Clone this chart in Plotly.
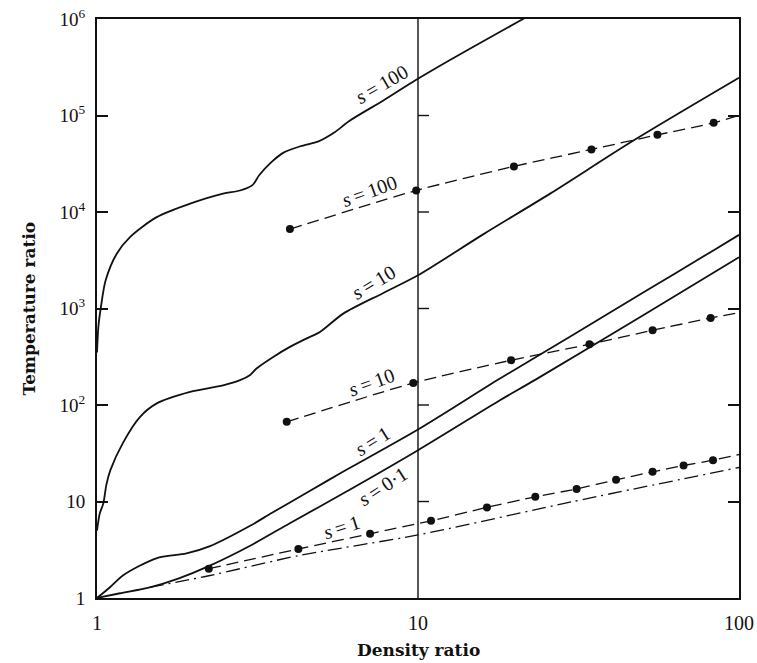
import math
import plotly.graph_objects as go

# ---------------- data ----------------
s100_solid_x = [1.0, 1.01, 1.027, 1.064, 1.152, 1.267, 1.535, 1.95, 2.47, 2.79, 3.05, 3.2, 3.5, 3.8, 4.3, 4.9, 5.5, 6.14, 7.8, 9.79, 12.5, 21.8]
s100_solid_y = [350, 650, 1000, 1960, 3700, 5500, 8850, 12200, 15500, 16700, 19000, 24000, 33000, 41000, 48000, 54000, 67000, 88700, 143000, 230000, 371000, 1050000]

s10_solid_x = [1.0, 1.02, 1.046, 1.07, 1.1, 1.207, 1.36, 1.535, 1.95, 2.47, 2.79, 3.0, 3.14, 3.54, 3.99, 4.5, 4.95, 5.85, 7.8, 10, 16, 25.8, 46.9, 100]
s10_solid_y = [5, 7.5, 9.5, 15, 21, 41, 75, 104, 137, 160, 181, 205, 239, 315, 400, 490, 571, 885, 1450, 2207, 5900, 15500, 55000, 246000]

s1_solid_x = [1.0, 1.1, 1.21, 1.53, 1.9, 2.25, 3.0, 3.5, 4.5, 5.71, 10, 18, 30, 50, 83.2, 100]
s1_solid_y = [1.0, 1.3, 1.73, 2.58, 2.9, 3.45, 5.6, 7.6, 12.3, 19.5, 55.7, 188, 519, 1446, 4000, 5800]

s01_solid_x = [1.0, 1.18, 1.46, 1.8, 2.23, 3.0, 4.0, 5.71, 10, 18, 23.1, 50, 100]
s01_solid_y = [1.0, 1.12, 1.29, 1.6, 2.14, 3.48, 6.0, 11.6, 34, 112, 181, 843, 3400]

s100_dash_x = [3.99, 9.87, 19.9, 34.7, 55.7, 83.4]
s100_dash_y = [6650, 16700, 29700, 44500, 63000, 84000]
s100_dash_end = (100, 100000)

s10_dash_x = [3.9, 9.67, 19.5, 34.2, 53.8, 81.6]
s10_dash_y = [66.9, 169, 291, 426, 594, 798]
s10_dash_end = (100, 906)

s1_dash_x = [2.23, 4.24, 7.09, 10.98, 16.4, 23.2, 31.2, 41.4, 53.8, 67.2, 83.0]
s1_dash_y = [2.01, 3.22, 4.63, 6.31, 8.69, 11.19, 13.5, 16.8, 20.3, 23.6, 26.8]
s1_dash_end = (100, 30.7)

dashdot_x = [1.46, 2.23, 4.24, 10, 30, 100]
dashdot_y = [1.29, 1.7, 2.75, 4.5, 9.9, 22.5]

y_tickvals = [1, 10, 100, 1e3, 1e4, 1e5, 1e6]
y_ticktext = ["1", "10", "10<sup>2</sup>", "10<sup>3</sup>", "10<sup>4</sup>", "10<sup>5</sup>", "10<sup>6</sup>"]
x_tickvals = [1, 10, 100]
x_ticktext = ["1", "10", "100"]

labels = [
    ("<i>s</i>\u2009=\u2009100", 7.71, 2.13e5, -30),
    ("<i>s</i>\u2009=\u2009100", 7.05, 1.64e4, -20),
    ("<i>s</i>\u2009=\u200910", 7.29, 1880, -31),
    ("<i>s</i>\u2009=\u200910", 7.17, 173, -20),
    ("<i>s</i>\u2009=\u20091", 7.22, 42.5, -32),
    ("<i>s</i>\u2009=\u20090·1", 7.8, 14.4, -33),
    ("<i>s</i>\u2009=\u20091", 5.78, 5.47, -18),
]

# ---------------- figure ----------------
INK = "#111111"
fig = go.Figure()

for xs, ys in [(s100_solid_x, s100_solid_y), (s10_solid_x, s10_solid_y),
               (s1_solid_x, s1_solid_y), (s01_solid_x, s01_solid_y)]:
    fig.add_trace(go.Scatter(x=xs, y=ys, mode="lines",
                             line=dict(color=INK, width=1.8, shape="spline", smoothing=0.8),
                             showlegend=False, hoverinfo="skip"))

for xs, ys, end in [(s100_dash_x, s100_dash_y, s100_dash_end),
                    (s10_dash_x, s10_dash_y, s10_dash_end),
                    (s1_dash_x, s1_dash_y, s1_dash_end)]:
    fig.add_trace(go.Scatter(x=xs + [end[0]], y=ys + [end[1]], mode="lines",
                             line=dict(color=INK, width=1.3, dash="12px,6px", shape="spline", smoothing=0.6),
                             showlegend=False, hoverinfo="skip"))
    fig.add_trace(go.Scatter(x=xs, y=ys, mode="markers",
                             marker=dict(color=INK, size=8),
                             showlegend=False, hoverinfo="skip"))

fig.add_trace(go.Scatter(x=dashdot_x, y=dashdot_y, mode="lines",
                         line=dict(color=INK, width=1.3, dash="14px,5px,2px,5px", shape="spline", smoothing=0.6),
                         showlegend=False, hoverinfo="skip"))

# vertical line at density ratio 10 with cross ticks
shapes = [dict(type="line", xref="x", yref="paper", x0=10, x1=10, y0=0, y1=1,
               line=dict(color=INK, width=1.4), layer="above")]
for v in y_tickvals[1:-1]:
    shapes.append(dict(type="line", xref="x", yref="y", xsizemode="pixel", xanchor=10,
                       x0=-11, x1=11, y0=v, y1=v, line=dict(color=INK, width=1.4)))

annotations = []
for txt, x, y, ang in labels:
    annotations.append(dict(text=txt, x=math.log10(x), y=math.log10(y),
                            xref="x", yref="y", showarrow=False, textangle=ang,
                            font=dict(family="Liberation Serif", size=20, color=INK),
                            xanchor="center", yanchor="middle"))

annotations.append(dict(text="<b>Density ratio</b>", xref="paper", yref="paper", x=0.5, y=0,
                        yshift=-52, showarrow=False, xanchor="center", yanchor="middle",
                        font=dict(family="DejaVu Serif", size=17, color=INK)))
annotations.append(dict(text="<b>Temperature ratio</b>", xref="paper", yref="paper", x=0, y=0.5,
                        xshift=-69, showarrow=False, textangle=-90, xanchor="center", yanchor="middle",
                        font=dict(family="DejaVu Serif", size=17, color=INK)))

fig.update_layout(
    width=757, height=663,
    margin=dict(l=97, r=18, t=19, b=65, autoexpand=False),
    paper_bgcolor="white", plot_bgcolor="white",
    shapes=shapes, annotations=annotations,
    font=dict(family="Liberation Serif", color=INK),
    xaxis=dict(type="log", range=[0, 2], tickmode="array", tickvals=x_tickvals, ticktext=x_ticktext,
               showgrid=False, zeroline=False, showline=True, linecolor=INK, linewidth=2, mirror=True,
               ticks="", tickfont=dict(family="Liberation Serif", size=20, color=INK),
               ticklabelstandoff=6, automargin=False, ticklabeloverflow="allow"),
    yaxis=dict(type="log", range=[0, 6], tickmode="array", tickvals=y_tickvals, ticktext=y_ticktext,
               showgrid=False, zeroline=False, showline=True, linecolor=INK, linewidth=2, mirror="ticks",
               ticks="inside", ticklen=11, tickwidth=1.6, tickcolor=INK,
               tickfont=dict(family="Liberation Serif", size=19, color=INK),
               ticklabelstandoff=6, automargin=False, ticklabeloverflow="allow"),
)

# remove the browser's default page margin so the figure sits at the window's top-left corner
fig.write_html("out.html", config={"displayModeBar": False},
               post_script="document.body.style.margin='0';document.body.style.overflow='hidden';")
